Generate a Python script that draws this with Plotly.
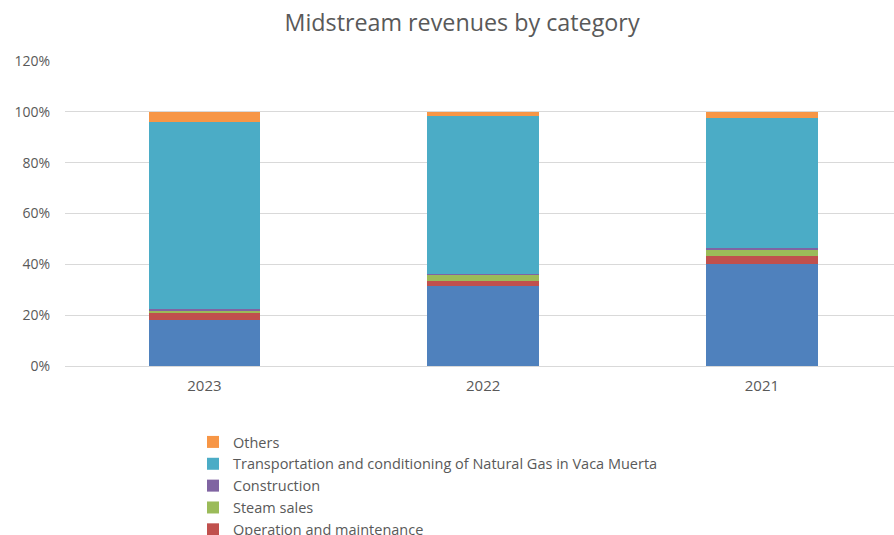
import plotly.graph_objects as go

# Fiscal years shown on the category axis
years = ["2023", "2022", "2021"]

# Share of midstream revenues per category (fraction of total), stacked bottom to top
gas_treatment = [0.180, 0.313, 0.400]
operation_maintenance = [0.030, 0.023, 0.034]
steam_sales = [0.010, 0.024, 0.021]
construction = [0.005, 0.002, 0.010]
vaca_muerta = [0.735, 0.621, 0.509]
others = [0.040, 0.017, 0.026]

series = [
    ("Natural gas conditioning and treatment", gas_treatment, "#4F81BD"),
    ("Operation and maintenance", operation_maintenance, "#C0504D"),
    ("Steam sales", steam_sales, "#9BBB59"),
    ("Construction", construction, "#8064A2"),
    ("Transportation and conditioning of Natural Gas in Vaca Muerta", vaca_muerta, "#4BACC6"),
    ("Others", others, "#F79646"),
]

FONT = "Open Sans"
TEXT = "#595959"
GRID = "#d9d9d9"

fig = go.Figure()
for name, values, color in series:
    fig.add_trace(go.Bar(
        x=years, y=values, name=name,
        marker=dict(color=color, line=dict(width=0)),
        width=0.4,
    ))

W, H = 894, 535
left, top, bottom = 65, 61, 169
band = 278.75  # pixel width of one category slot
x_hi = (W - left) / band - 0.5

fig.update_layout(
    width=W, height=H,
    barmode="stack",
    paper_bgcolor="white", plot_bgcolor="white",
    margin=dict(l=left, r=0, t=top, b=bottom, autoexpand=False),
    title=dict(
        text="Midstream revenues by category",
        x=462 / W, xanchor="center", xref="container",
        y=1 - 23 / H, yanchor="middle", yref="container",
        font=dict(family=FONT, size=23.3, color=TEXT),
    ),
    font=dict(family=FONT, color=TEXT),
    xaxis=dict(
        type="category", range=[-0.5, x_hi],
        showgrid=False, showline=False, zeroline=False,
        ticks="", ticklabelstandoff=9,
        tickfont=dict(family=FONT, size=15, color=TEXT),
    ),
    yaxis=dict(
        range=[0, 1.2], dtick=0.2, tickformat=".0%",
        showgrid=True, gridcolor=GRID, gridwidth=1,
        zeroline=True, zerolinecolor=GRID, zerolinewidth=1,
        showline=False, ticks="", ticklabelstandoff=14,
        tickfont=dict(family=FONT, size=14, color=TEXT),
    ),
    showlegend=True,
    legend=dict(
        orientation="v", traceorder="reversed",
        xref="container", yref="container",
        x=193 / W, xanchor="left",
        y=1 - 426 / H, yanchor="top",
        font=dict(family=FONT, size=14.5, color=TEXT),
        bgcolor="rgba(0,0,0,0)",
        maxheight=300,
    ),
)

fig.write_html("out.html")
